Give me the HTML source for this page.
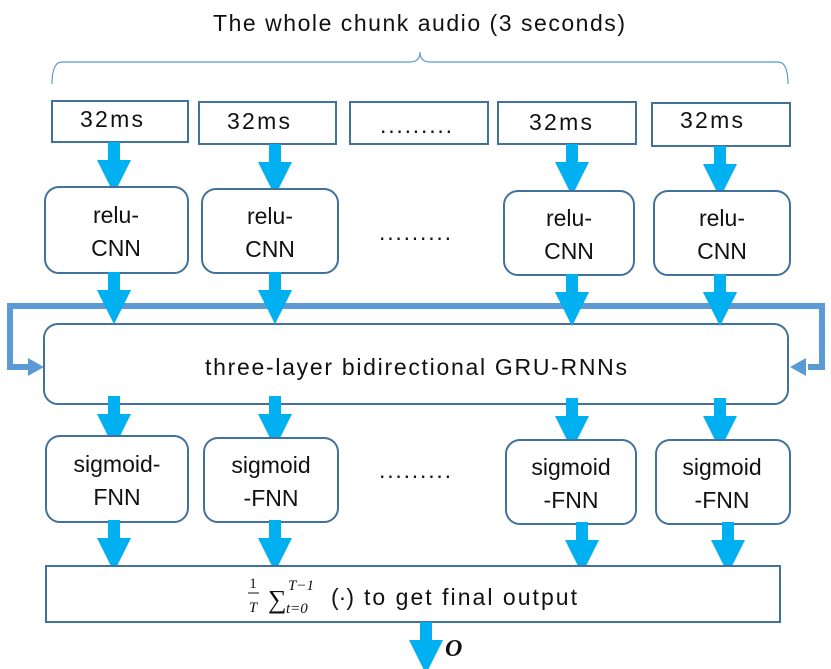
<!DOCTYPE html>
<html><head><style>body{margin:0;background:#fff}svg{display:block}text{font-family:"Liberation Sans",sans-serif;fill:#111}</style></head><body>
<svg width="831" height="669" viewBox="0 0 831 669">
<defs>
<g id="ar"><polygon points="-6,0 6,0 6,18 17,18 0,52 -17,18 -6,18" fill="#00b0f0"/></g>
</defs>
<text x="213" y="31" font-size="23" textLength="412" lengthAdjust="spacing">The whole chunk audio (3 seconds)</text>
<path d="M52,84 Q52,62 62,62 L410,62 Q420,62 420,52 Q420,62 430,62 L778,62 Q788,62 788,84" fill="none" stroke="#5b9bd5" stroke-width="1.2"/>
<g fill="#fff" stroke="#41719c" stroke-width="2">
<rect x="52" y="101" width="136" height="41"/>
<rect x="199" y="102" width="137" height="42"/>
<rect x="350" y="102" width="138" height="42"/>
<rect x="498" y="102" width="138" height="42"/>
<rect x="652" y="103" width="138" height="43"/>
</g>
<g font-size="23">
<text x="80" y="127" textLength="63" lengthAdjust="spacing">32ms</text><text x="227" y="129" textLength="63" lengthAdjust="spacing">32ms</text><text x="380" y="133" textLength="72" lengthAdjust="spacing">.........</text><text x="529" y="130" textLength="63" lengthAdjust="spacing">32ms</text><text x="680" y="128" textLength="63" lengthAdjust="spacing">32ms</text>
</g>
<use href="#ar" x="114" y="142"/><use href="#ar" x="275" y="144"/><use href="#ar" x="572" y="144"/><use href="#ar" x="720" y="146"/>
<g fill="#fff" stroke="#41719c" stroke-width="2">
<rect x="45" y="187" width="143" height="86" rx="14"/>
<rect x="202" y="189" width="136" height="84" rx="14"/>
<rect x="504" y="191" width="130" height="84" rx="14"/>
<rect x="654" y="191" width="136" height="84" rx="14"/>
</g>
<g font-size="23" text-anchor="middle">
<text x="116" y="223">relu-</text><text x="116" y="256">CNN</text>
<text x="270" y="224">relu-</text><text x="270" y="257">CNN</text>
<text x="415" y="240" textLength="72" lengthAdjust="spacing">.........</text>
<text x="569" y="226">relu-</text><text x="569" y="259">CNN</text>
<text x="722" y="226">relu-</text><text x="722" y="259">CNN</text>
</g>
<use href="#ar" x="114" y="272"/><use href="#ar" x="275" y="272"/><use href="#ar" x="572" y="274"/><use href="#ar" x="720" y="274"/>
<path d="M30,367 L10,367 L10,306 L822,306 L822,367 L808,367" fill="none" stroke="#5b9bd5" stroke-width="6"/>
<polygon points="28,358 44,367 28,376" fill="#5b9bd5"/>
<polygon points="806,358 790,367 806,376" fill="#5b9bd5"/>
<rect x="44" y="324" width="744" height="80" rx="14" fill="#fff" stroke="#41719c" stroke-width="2"/>
<use href="#ar" x="114" y="272"/><use href="#ar" x="275" y="272"/><use href="#ar" x="572" y="274"/><use href="#ar" x="720" y="274"/>
<text x="205" y="375" font-size="23" textLength="422" lengthAdjust="spacing">three-layer bidirectional GRU-RNNs</text>
<use href="#ar" x="114" y="396"/><use href="#ar" x="275" y="396"/><use href="#ar" x="572" y="398"/><use href="#ar" x="720" y="398"/>
<g fill="#fff" stroke="#41719c" stroke-width="2">
<rect x="46" y="436" width="142" height="86" rx="14"/>
<rect x="204" y="438" width="134" height="84" rx="14"/>
<rect x="506" y="440" width="130" height="84" rx="14"/>
<rect x="656" y="440" width="134" height="84" rx="14"/>
</g>
<g font-size="23" text-anchor="middle">
<text x="117" y="472">sigmoid-</text><text x="117" y="505">FNN</text>
<text x="271" y="473">sigmoid</text><text x="271" y="506">-FNN</text>
<text x="415" y="478" textLength="72" lengthAdjust="spacing">.........</text>
<text x="571" y="475">sigmoid</text><text x="571" y="508">-FNN</text>
<text x="722" y="475">sigmoid</text><text x="722" y="508">-FNN</text>
</g>
<use href="#ar" x="114" y="520"/><use href="#ar" x="275" y="520"/><use href="#ar" x="582" y="522"/><use href="#ar" x="728" y="522"/>
<rect x="46" y="566" width="734" height="56" fill="#fff" stroke="#41719c" stroke-width="2"/>
<text x="253" y="588" font-size="15" style="font-family:'Liberation Serif'" text-anchor="middle">1</text>
<line x1="248" y1="593" x2="259" y2="593" stroke="#111" stroke-width="1"/>
<text x="253" y="612" font-size="15" style="font-family:'Liberation Serif';font-style:italic" text-anchor="middle">T</text>
<text x="268" y="608" font-size="26" style="font-family:'Liberation Serif'">∑</text>
<text x="288" y="590" font-size="15" style="font-family:'Liberation Serif';font-style:italic">T−1</text>
<text x="286" y="613" font-size="15" style="font-family:'Liberation Serif';font-style:italic">t=0</text>
<text x="331" y="605" font-size="23">(·)</text>
<text x="364" y="605" font-size="23" textLength="213" lengthAdjust="spacing">to get final output</text>
<use href="#ar" x="426" y="622"/>
<text x="445" y="656" font-size="24" font-weight="bold" font-style="italic" style="font-family:'Liberation Serif'">O</text>
</svg>
</body></html>
